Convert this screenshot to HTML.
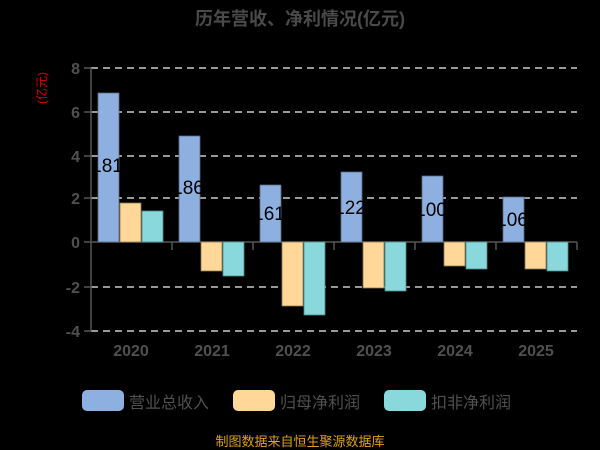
<!DOCTYPE html>
<html><head><meta charset="utf-8"><style>
html,body{margin:0;padding:0;background:#000;}
svg{display:block;font-family:"Liberation Sans","Noto Sans CJK SC",sans-serif;}
</style></head><body>
<svg width="600" height="450" viewBox="0 0 600 450" xmlns="http://www.w3.org/2000/svg">
<rect width="600" height="450" fill="#000"/>
<text x="300" y="25" text-anchor="middle" font-size="18" font-weight="bold" fill="#4a4a4a">历年营收、净利情况(亿元)</text>
<text transform="translate(46,88) rotate(-90)" text-anchor="middle" font-size="12" fill="#e00000">(亿元)</text>
<g stroke="#ccc" stroke-width="1.5" stroke-dasharray="7,5">
<line x1="91" y1="68" x2="577" y2="68"/>
<line x1="91" y1="112" x2="577" y2="112"/>
<line x1="91" y1="156" x2="577" y2="156"/>
<line x1="91" y1="198" x2="577" y2="198"/>
<line x1="91" y1="287" x2="577" y2="287"/>
<line x1="91" y1="331" x2="577" y2="331"/>
</g>
<g font-size="16" font-weight="bold" fill="#505050" text-anchor="end">
<text x="80" y="74">8</text><text x="80" y="118">6</text><text x="80" y="162">4</text>
<text x="80" y="204">2</text><text x="80" y="248">0</text><text x="80" y="293">-2</text><text x="80" y="337">-4</text>
</g>
<g stroke="#555" stroke-width="1.5">
<line x1="91" y1="68" x2="91" y2="331"/>
<line x1="84" y1="68" x2="91" y2="68"/><line x1="84" y1="112" x2="91" y2="112"/><line x1="84" y1="156" x2="91" y2="156"/>
<line x1="84" y1="198" x2="91" y2="198"/><line x1="84" y1="242" x2="91" y2="242"/><line x1="84" y1="287" x2="91" y2="287"/><line x1="84" y1="331" x2="91" y2="331"/>
<line x1="91" y1="242" x2="577" y2="242"/>
<line x1="172" y1="242" x2="172" y2="250"/><line x1="253" y1="242" x2="253" y2="250"/><line x1="334" y1="242" x2="334" y2="250"/>
<line x1="415" y1="242" x2="415" y2="250"/><line x1="496" y1="242" x2="496" y2="250"/><line x1="577" y1="242" x2="577" y2="250"/>
</g>
<g stroke="#5a6a80" stroke-width="0.8">
<rect x="98" y="93" width="21" height="149" fill="#8eb0e0"/>
<rect x="179" y="136" width="21" height="106" fill="#8eb0e0"/>
<rect x="260" y="185" width="21" height="57" fill="#8eb0e0"/>
<rect x="341" y="172" width="21" height="70" fill="#8eb0e0"/>
<rect x="422" y="176" width="21" height="66" fill="#8eb0e0"/>
<rect x="503" y="197" width="21" height="45" fill="#8eb0e0"/>
</g>
<g stroke="#8a7a50" stroke-width="0.8" fill="#ffd899">
<rect x="120" y="203" width="21" height="39"/>
<rect x="201" y="242" width="21" height="29"/>
<rect x="282" y="242" width="21" height="64"/>
<rect x="363" y="242" width="21" height="46"/>
<rect x="444" y="242" width="21" height="24"/>
<rect x="525" y="242" width="21" height="27"/>
</g>
<g stroke="#4a8a8a" stroke-width="0.8" fill="#88d8dc">
<rect x="142" y="211" width="21" height="31"/>
<rect x="223" y="242" width="21" height="34"/>
<rect x="304" y="242" width="21" height="73"/>
<rect x="385" y="242" width="21" height="49"/>
<rect x="466" y="242" width="21" height="27"/>
<rect x="547" y="242" width="21" height="29"/>
</g>
<g font-size="19" fill="#000" text-anchor="middle">
<text x="107" y="172">181</text><text x="188" y="194">186</text><text x="269" y="220">161</text>
<text x="350" y="214">122</text><text x="431" y="216">100</text><text x="512" y="226">106</text>
</g>
<g font-size="16" font-weight="bold" fill="#505050" text-anchor="middle">
<text x="131" y="356">2020</text><text x="212" y="356">2021</text><text x="293" y="356">2022</text>
<text x="374" y="356">2023</text><text x="455" y="356">2024</text><text x="536" y="356">2025</text>
</g>
<g font-size="16" fill="#505050">
<rect x="82" y="390" width="42" height="21" rx="5" fill="#8eb0e0"/><text x="129" y="408">营业总收入</text>
<rect x="233" y="390" width="42" height="21" rx="5" fill="#ffd899"/><text x="280" y="408">归母净利润</text>
<rect x="384" y="390" width="42" height="21" rx="5" fill="#88d8dc"/><text x="431" y="408">扣非净利润</text>
</g>
<text x="300" y="446" text-anchor="middle" font-size="13" fill="#e0a020">制图数据来自恒生聚源数据库</text>
</svg>
</body></html>
